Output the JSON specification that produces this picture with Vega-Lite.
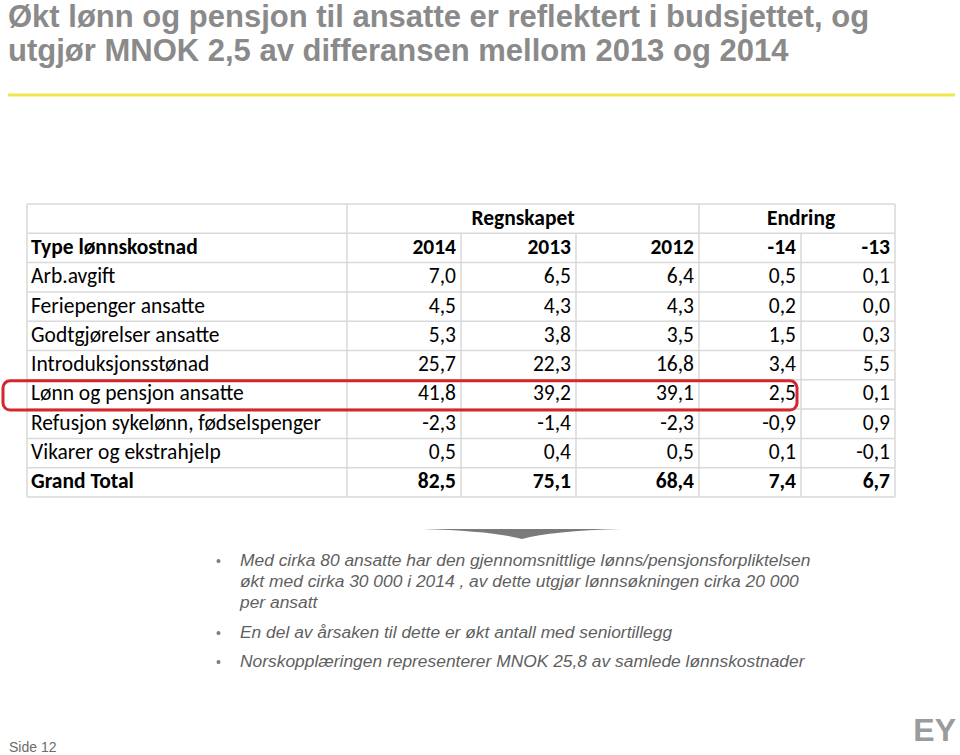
{
  "$schema": "https://vega.github.io/schema/vega-lite/v6.json",
  "width": 960,
  "height": 755,
  "autosize": {"type": "fit", "contains": "padding"},
  "padding": 0,
  "background": "white",
  "config": {
    "view": {"stroke": null},
    "axis": {"disable": true},
    "locale": {"number": {"decimal": ",", "thousands": " ", "grouping": [3], "currency": ["", " kr"], "minus": "-"}}
  },
  "datasets": {
    "rows": [
      {"r": 2, "type": "Arb.avgift", "2014": 7.0, "2013": 6.5, "2012": 6.4, "-14": 0.5, "-13": 0.1},
      {"r": 3, "type": "Feriepenger ansatte", "2014": 4.5, "2013": 4.3, "2012": 4.3, "-14": 0.2, "-13": 0.0},
      {"r": 4, "type": "Godtgjørelser ansatte", "2014": 5.3, "2013": 3.8, "2012": 3.5, "-14": 1.5, "-13": 0.3},
      {"r": 5, "type": "Introduksjonsstønad", "2014": 25.7, "2013": 22.3, "2012": 16.8, "-14": 3.4, "-13": 5.5},
      {"r": 6, "type": "Lønn og pensjon ansatte", "2014": 41.8, "2013": 39.2, "2012": 39.1, "-14": 2.5, "-13": 0.1},
      {"r": 7, "type": "Refusjon sykelønn, fødselspenger", "2014": -2.3, "2013": -1.4, "2012": -2.3, "-14": -0.9, "-13": 0.9},
      {"r": 8, "type": "Vikarer og ekstrahjelp", "2014": 0.5, "2013": 0.4, "2012": 0.5, "-14": 0.1, "-13": -0.1},
      {"r": 9, "type": "Grand Total", "2014": 82.5, "2013": 75.1, "2012": 68.4, "-14": 7.4, "-13": 6.7}
    ],
    "cols": [
      {"key": "2014", "edge": 2},
      {"key": "2013", "edge": 3},
      {"key": "2012", "edge": 4},
      {"key": "-14", "edge": 5},
      {"key": "-13", "edge": 6}
    ],
    "groups": [
      {"h": "Regnskapet", "from": 1, "to": 4},
      {"h": "Endring", "from": 4, "to": 6}
    ],
    "hlines": [{"h": 0}, {"h": 1}, {"h": 2}, {"h": 3}, {"h": 4}, {"h": 5}, {"h": 6}, {"h": 7}, {"h": 8}, {"h": 9}, {"h": 10}],
    "vlines": [
      {"e": 0, "top": 0}, {"e": 1, "top": 0}, {"e": 2, "top": 1}, {"e": 3, "top": 1},
      {"e": 4, "top": 0}, {"e": 5, "top": 1}, {"e": 6, "top": 0}
    ],
    "title": [
      {"line": 1, "text": "Økt lønn og pensjon til ansatte er reflektert i budsjettet, og"},
      {"line": 2, "text": "utgjør MNOK 2,5 av differansen mellom 2013 og 2014"}
    ],
    "bullets": [
      {"line": 1, "bullet": true, "text": "Med cirka 80 ansatte har den gjennomsnittlige lønns/pensjonsforpliktelsen"},
      {"line": 2, "bullet": false, "text": "økt med cirka 30 000 i 2014 , av dette utgjør lønnsøkningen cirka  20 000"},
      {"line": 3, "bullet": false, "text": "per ansatt"},
      {"line": 4, "bullet": true, "text": "En del av årsaken til dette er økt antall  med seniortillegg"},
      {"line": 5, "bullet": true, "text": "Norskopplæringen representerer MNOK 25,8 av samlede lønnskostnader"}
    ],
    "footer": [
      {"k": "side", "text": "Side 12"},
      {"k": "logo", "text": "EY"}
    ]
  },
  "resolve": {"scale": {"x": "independent", "y": "independent"}},
  "layer": [
    {
      "layer": [
        {
          "data": {"name": "hlines"},
          "mark": {"type": "rule", "color": "#d9d9d9", "strokeWidth": 1.5},
          "encoding": {
            "y": {"field": "h", "type": "quantitative", "scale": {"domain": [0, 10], "range": [204, 497], "zero": false, "nice": false}},
            "x": {"datum": 0, "type": "quantitative", "scale": {"type": "linear", "domain": [0, 1, 2, 2.5, 3, 4, 5, 6], "range": [27, 347, 461, 523, 576, 699, 801, 895], "zero": false, "nice": false}},
            "x2": {"datum": 6}
          }
        },
        {
          "data": {"name": "vlines"},
          "mark": {"type": "rule", "color": "#d9d9d9", "strokeWidth": 1.5},
          "encoding": {
            "x": {"field": "e", "type": "quantitative", "scale": {"type": "linear", "domain": [0, 1, 2, 2.5, 3, 4, 5, 6], "range": [27, 347, 461, 523, 576, 699, 801, 895], "zero": false, "nice": false}},
            "y": {"field": "top", "type": "quantitative", "scale": {"domain": [0, 10], "range": [204, 497], "zero": false, "nice": false}},
            "y2": {"datum": 10}
          }
        },
        {
          "data": {"name": "groups"},
          "transform": [{"calculate": "(datum.from + datum.to) / 2", "as": "mid"}],
          "mark": {"type": "text", "font": "Carlito, Lato, sans-serif", "fontSize": 21.5, "fontWeight": "bold", "align": "center", "baseline": "middle", "dy": 14.65, "color": "#000000"},
          "encoding": {
            "x": {"field": "mid", "type": "quantitative", "scale": {"type": "linear", "domain": [0, 1, 2, 2.5, 3, 4, 5, 6], "range": [27, 347, 461, 523, 576, 699, 801, 895], "zero": false, "nice": false}},
            "y": {"datum": 0, "type": "quantitative", "scale": {"domain": [0, 10], "range": [204, 497], "zero": false, "nice": false}},
            "text": {"field": "h", "type": "nominal"}
          }
        },
        {
          "data": {"name": "cols"},
          "mark": {"type": "text", "font": "Carlito, Lato, sans-serif", "fontSize": 21.5, "fontWeight": "bold", "align": "right", "baseline": "middle", "dy": 14.65, "dx": -5, "color": "#000000"},
          "encoding": {
            "x": {"field": "edge", "type": "quantitative", "scale": {"type": "linear", "domain": [0, 1, 2, 2.5, 3, 4, 5, 6], "range": [27, 347, 461, 523, 576, 699, 801, 895], "zero": false, "nice": false}},
            "y": {"datum": 1, "type": "quantitative", "scale": {"domain": [0, 10], "range": [204, 497], "zero": false, "nice": false}},
            "text": {"field": "key", "type": "nominal"}
          }
        },
        {
          "data": {"values": [{"t": "Type lønnskostnad"}]},
          "mark": {"type": "text", "font": "Carlito, Lato, sans-serif", "fontSize": 21.5, "fontWeight": "bold", "align": "left", "baseline": "middle", "dy": 14.65, "dx": 4, "color": "#000000"},
          "encoding": {
            "x": {"datum": 0, "type": "quantitative", "scale": {"type": "linear", "domain": [0, 1, 2, 2.5, 3, 4, 5, 6], "range": [27, 347, 461, 523, 576, 699, 801, 895], "zero": false, "nice": false}},
            "y": {"datum": 1, "type": "quantitative", "scale": {"domain": [0, 10], "range": [204, 497], "zero": false, "nice": false}},
            "text": {"field": "t", "type": "nominal"}
          }
        },
        {
          "data": {"name": "rows"},
          "transform": [{"filter": "datum.r < 9"}],
          "mark": {"type": "text", "font": "Carlito, Lato, sans-serif", "fontSize": 21.5, "align": "left", "baseline": "middle", "dy": 14.65, "dx": 4, "color": "#000000"},
          "encoding": {
            "x": {"datum": 0, "type": "quantitative", "scale": {"type": "linear", "domain": [0, 1, 2, 2.5, 3, 4, 5, 6], "range": [27, 347, 461, 523, 576, 699, 801, 895], "zero": false, "nice": false}},
            "y": {"field": "r", "type": "quantitative", "scale": {"domain": [0, 10], "range": [204, 497], "zero": false, "nice": false}},
            "text": {"field": "type", "type": "nominal"}
          }
        },
        {
          "data": {"name": "rows"},
          "transform": [{"filter": "datum.r == 9"}],
          "mark": {"type": "text", "font": "Carlito, Lato, sans-serif", "fontSize": 21.5, "fontWeight": "bold", "align": "left", "baseline": "middle", "dy": 14.65, "dx": 4, "color": "#000000"},
          "encoding": {
            "x": {"datum": 0, "type": "quantitative", "scale": {"type": "linear", "domain": [0, 1, 2, 2.5, 3, 4, 5, 6], "range": [27, 347, 461, 523, 576, 699, 801, 895], "zero": false, "nice": false}},
            "y": {"field": "r", "type": "quantitative", "scale": {"domain": [0, 10], "range": [204, 497], "zero": false, "nice": false}},
            "text": {"field": "type", "type": "nominal"}
          }
        },
        {
          "data": {"name": "rows"},
          "transform": [
            {"fold": ["2014", "2013", "2012", "-14", "-13"], "as": ["key", "value"]},
            {"lookup": "key", "from": {"data": {"name": "cols"}, "key": "key", "fields": ["edge"]}},
            {"filter": "datum.r < 9"}
          ],
          "mark": {"type": "text", "font": "Carlito, Lato, sans-serif", "fontSize": 21.5, "align": "right", "baseline": "middle", "dy": 14.65, "dx": -5, "color": "#000000"},
          "encoding": {
            "x": {"field": "edge", "type": "quantitative", "scale": {"type": "linear", "domain": [0, 1, 2, 2.5, 3, 4, 5, 6], "range": [27, 347, 461, 523, 576, 699, 801, 895], "zero": false, "nice": false}},
            "y": {"field": "r", "type": "quantitative", "scale": {"domain": [0, 10], "range": [204, 497], "zero": false, "nice": false}},
            "text": {"field": "value", "type": "quantitative", "format": ".1f"}
          }
        },
        {
          "data": {"name": "rows"},
          "transform": [
            {"fold": ["2014", "2013", "2012", "-14", "-13"], "as": ["key", "value"]},
            {"lookup": "key", "from": {"data": {"name": "cols"}, "key": "key", "fields": ["edge"]}},
            {"filter": "datum.r == 9"}
          ],
          "mark": {"type": "text", "font": "Carlito, Lato, sans-serif", "fontSize": 21.5, "fontWeight": "bold", "align": "right", "baseline": "middle", "dy": 14.65, "dx": -5, "color": "#000000"},
          "encoding": {
            "x": {"field": "edge", "type": "quantitative", "scale": {"type": "linear", "domain": [0, 1, 2, 2.5, 3, 4, 5, 6], "range": [27, 347, 461, 523, 576, 699, 801, 895], "zero": false, "nice": false}},
            "y": {"field": "r", "type": "quantitative", "scale": {"domain": [0, 10], "range": [204, 497], "zero": false, "nice": false}},
            "text": {"field": "value", "type": "quantitative", "format": ".1f"}
          }
        },
        {
          "data": {"values": [{}]},
          "mark": {"type": "rect", "fill": null, "fillOpacity": 0, "stroke": "#d4262c", "strokeWidth": 3, "cornerRadius": 7, "xOffset": -24, "x2Offset": -4, "yOffset": 1, "y2Offset": 1},
          "encoding": {
            "x": {"datum": 0, "type": "quantitative", "scale": {"type": "linear", "domain": [0, 1, 2, 2.5, 3, 4, 5, 6], "range": [27, 347, 461, 523, 576, 699, 801, 895], "zero": false, "nice": false}},
            "x2": {"datum": 5},
            "y": {"datum": 6, "type": "quantitative", "scale": {"domain": [0, 10], "range": [204, 497], "zero": false, "nice": false}},
            "y2": {"datum": 7}
          }
        }
      ]
    },
    {
      "data": {"name": "title"},
      "mark": {"type": "text", "align": "left", "baseline": "alphabetic", "font": "Liberation Sans, Arial, sans-serif", "fontWeight": "bold", "fontSize": 31, "color": "#8a8a8a"},
      "encoding": {
        "x": {"datum": 0, "type": "quantitative", "scale": {"domain": [0, 1], "range": [8, 960], "zero": false, "nice": false}},
        "y": {"field": "line", "type": "quantitative", "scale": {"domain": [1, 2], "range": [27, 61], "zero": false, "nice": false}},
        "text": {"field": "text", "type": "nominal"}
      }
    },
    {
      "data": {"values": [{}]},
      "mark": {"type": "rule", "color": "#efe64e", "strokeWidth": 3},
      "encoding": {
        "x": {"datum": 0, "type": "quantitative", "scale": {"domain": [0, 1], "range": [8, 955], "zero": false, "nice": false}},
        "x2": {"datum": 1},
        "y": {"datum": 0, "type": "quantitative", "scale": {"domain": [0, 1], "range": [95, 96], "zero": false, "nice": false}}
      }
    },
    {
      "data": {"values": [{}]},
      "mark": {"type": "point", "filled": true, "color": "#7a7a7a", "opacity": 1, "size": 39601, "shape": "M-1,-0.05 L1,-0.05 Q0.3,-0.03 0,0.05 Q-0.3,-0.03 -1,-0.05 Z"},
      "encoding": {
        "x": {"datum": 0, "type": "quantitative", "scale": {"domain": [0, 1], "range": [522, 523], "zero": false, "nice": false}},
        "y": {"datum": 0, "type": "quantitative", "scale": {"domain": [0, 1], "range": [534, 535], "zero": false, "nice": false}}
      }
    },
    {
      "layer": [
        {
          "data": {"name": "bullets"},
          "transform": [{"filter": "datum.bullet"}],
          "mark": {"type": "text", "align": "left", "baseline": "alphabetic", "font": "Liberation Sans, Arial, sans-serif", "fontSize": 14, "color": "#7f7f7f"},
          "encoding": {
            "x": {"datum": 0, "type": "quantitative", "scale": {"domain": [0, 1], "range": [216, 240], "zero": false, "nice": false}},
            "y": {"field": "line", "type": "quantitative", "scale": {"domain": [1, 2, 3, 4, 5], "range": [566, 587, 608, 638, 667], "zero": false, "nice": false}},
            "text": {"value": "•"}
          }
        },
        {
          "data": {"name": "bullets"},
          "mark": {"type": "text", "align": "left", "baseline": "alphabetic", "font": "Liberation Sans, Arial, sans-serif", "fontSize": 17.4, "fontStyle": "italic", "color": "#5f5f5f"},
          "encoding": {
            "x": {"datum": 1, "type": "quantitative", "scale": {"domain": [0, 1], "range": [216, 240], "zero": false, "nice": false}},
            "y": {"field": "line", "type": "quantitative", "scale": {"domain": [1, 2, 3, 4, 5], "range": [566, 587, 608, 638, 667], "zero": false, "nice": false}},
            "text": {"field": "text", "type": "nominal"}
          }
        }
      ]
    },
    {
      "layer": [
        {
          "data": {"name": "footer"},
          "transform": [{"filter": "datum.k == 'side'"}],
          "mark": {"type": "text", "align": "left", "baseline": "alphabetic", "font": "Liberation Sans, Arial, sans-serif", "fontSize": 14, "color": "#6b6b6b"},
          "encoding": {
            "x": {"datum": 0, "type": "quantitative", "scale": {"domain": [0, 1], "range": [9, 956], "zero": false, "nice": false}},
            "y": {"datum": 0, "type": "quantitative", "scale": {"domain": [0, 1], "range": [752, 741], "zero": false, "nice": false}},
            "text": {"field": "text", "type": "nominal"}
          }
        },
        {
          "data": {"name": "footer"},
          "transform": [{"filter": "datum.k == 'logo'"}],
          "mark": {"type": "text", "align": "right", "baseline": "alphabetic", "font": "Liberation Sans, Arial, sans-serif", "fontWeight": "bold", "fontSize": 32, "color": "#9b9b9b"},
          "encoding": {
            "x": {"datum": 1, "type": "quantitative", "scale": {"domain": [0, 1], "range": [9, 956], "zero": false, "nice": false}},
            "y": {"datum": 1, "type": "quantitative", "scale": {"domain": [0, 1], "range": [752, 741], "zero": false, "nice": false}},
            "text": {"field": "text", "type": "nominal"}
          }
        }
      ]
    }
  ]
}
